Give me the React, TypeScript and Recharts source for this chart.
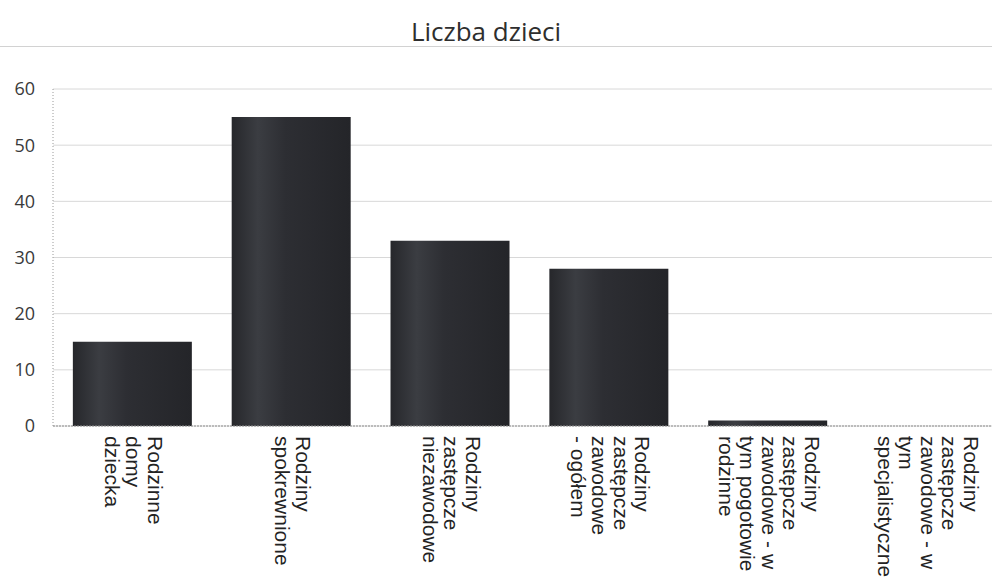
import { BarChart, Bar, XAxis, YAxis, CartesianGrid } from 'recharts';

const categories = [
  'Rodzinne domy dziecka',
  'Rodziny spokrewnione',
  'Rodziny zastępcze niezawodowe',
  'Rodziny zastępcze zawodowe - ogółem',
  'Rodziny zastępcze zawodowe - w tym pogotowie rodzinne',
  'Rodziny zastępcze zawodowe - w tym specjalistyczne',
];

// how the category names are wrapped under the axis
const tickLines = [
  ['Rodzinne', 'domy', 'dziecka'],
  ['Rodziny', 'spokrewnione'],
  ['Rodziny', 'zastępcze', 'niezawodowe'],
  ['Rodziny', 'zastępcze', 'zawodowe', '- ogółem'],
  ['Rodziny', 'zastępcze', 'zawodowe - w', 'tym pogotowie', 'rodzinne'],
  ['Rodziny', 'zastępcze', 'zawodowe - w', 'tym', 'specjalistyczne'],
];

const values = [15, 55, 33, 28, 1, 0];
const yTicks = [0, 10, 20, 30, 40, 50, 60];

const data = categories.map((name, i) => ({ name, idx: i, value: values[i] }));

const LINE_H = 21.5;

const CategoryTick = ({ x, y, payload }: any) => {
  const lines = tickLines[payload.index] ?? [payload.value];
  const first = 6 - ((lines.length - 1) * LINE_H) / 2;
  // y already includes the default tick size + margin (8px)
  return (
    <g transform={`translate(${x},${y + 2}) rotate(90)`}>
      <text
        x={0}
        y={0}
        textAnchor="start"
        fill="#232323"
        fontSize={21}
        fontFamily="'Liberation Sans', Arial, sans-serif"
      >
        {lines.map((l, i) => (
          <tspan key={i} x={0} dy={i === 0 ? first : LINE_H}>
            {l}
          </tspan>
        ))}
      </text>
    </g>
  );
};

export default function App() {
  return (
    <div
      style={{
        position: 'absolute',
        left: 0,
        top: 0,
        width: 992,
        height: 579,
        overflow: 'hidden',
        background: '#fff',
      }}
    >
      <div
        style={{
          position: 'absolute',
          top: 13,
          left: 0,
          width: 972,
          textAlign: 'center',
          fontFamily: "'Open Sans', sans-serif",
          fontSize: 26,
          color: '#2e2e2e',
        }}
      >
        Liczba dzieci
      </div>
      <div
        style={{
          position: 'absolute',
          top: 46,
          left: 0,
          width: 992,
          height: 1,
          background: '#d2d2d2',
        }}
      />
      <div style={{ position: 'absolute', left: 0, top: 0 }}>
        <BarChart
          width={1006}
          height={579}
          data={data}
          margin={{ top: 89, right: 0, bottom: 0, left: 0 }}
          barCategoryGap="12.5%"
        >
          <defs>
            <linearGradient id="barFill" x1="0" y1="0" x2="1" y2="0">
              <stop offset="0%" stopColor="#26272b" />
              <stop offset="22%" stopColor="#3b3d42" />
              <stop offset="45%" stopColor="#2d2e33" />
              <stop offset="100%" stopColor="#242529" />
            </linearGradient>
          </defs>
          <CartesianGrid vertical={false} stroke="#d8d8d8" />
          <XAxis
            dataKey="name"
            height={153}
            interval={0}
            tickLine={false}
            axisLine={{ stroke: '#8c8c8c', strokeDasharray: '2 1' }}
            tick={<CategoryTick />}
          />
          <YAxis
            width={53}
            domain={[0, 60]}
            ticks={yTicks}
            tickLine={false}
            tickSize={0}
            tickMargin={18}
            axisLine={{ stroke: '#9a9a9a', strokeDasharray: '1 2' }}
            tick={{ fill: '#3a3a3a', fontSize: 18, fontFamily: "'Open Sans', sans-serif" }}
          />
          <Bar dataKey="value" fill="url(#barFill)" isAnimationActive={false} />
        </BarChart>
      </div>
    </div>
  );
}
